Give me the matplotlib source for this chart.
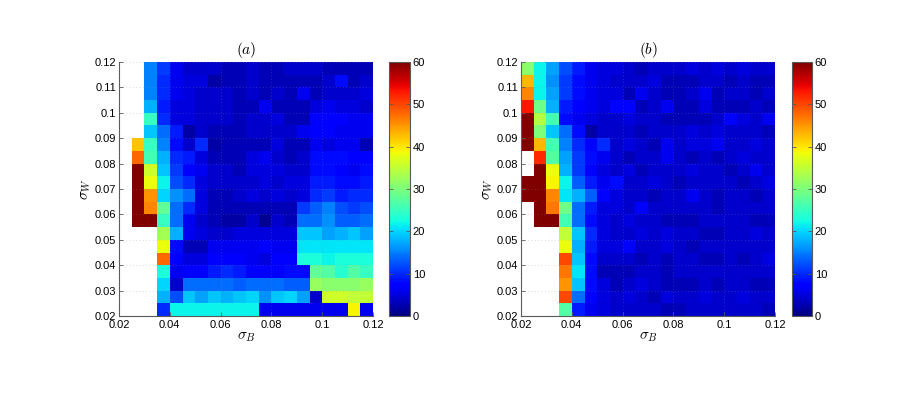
import numpy as np
import matplotlib
matplotlib.use("Agg")
import matplotlib.pyplot as plt

plt.rcParams['font.family'] = ['Liberation Sans', 'DejaVu Sans']
plt.rcParams['mathtext.fontset'] = 'cm'

N = np.nan

# cell edges of the sigma_B / sigma_W grid
sigma_B_edges = [0.02, 0.025, 0.03, 0.035, 0.04, 0.045, 0.05, 0.055, 0.06, 0.065, 0.07,
                 0.075, 0.08, 0.085, 0.09, 0.095, 0.1, 0.105, 0.11, 0.115, 0.12]
sigma_W_edges = list(sigma_B_edges)

x_ticks = [0.02, 0.04, 0.06, 0.08, 0.1, 0.12]
y_ticks = [0.02, 0.03, 0.04, 0.05, 0.06, 0.07, 0.08, 0.09, 0.1, 0.11, 0.12]
cbar_ticks = [0, 10, 20, 30, 40, 50, 60]

# panel (a): rows listed from top (sigma_W = 0.115..0.12) to bottom (0.02..0.025)
values_a = [
    [N, N, 15, 11, 6, 4, 4, 4, 3, 3, 4, 3, 3, 4, 4, 4, 3, 3, 3, 3],
    [N, N, 15, 10, 6, 5, 5, 2, 3, 3, 4, 3, 3, 3, 3, 3, 4, 8, 3, 4],
    [N, N, 15, 10, 6, 5, 4, 4, 4, 3, 4, 3, 4, 3, 6, 3, 4, 4, 4, 5],
    [N, N, 18, 9, 5, 5, 4, 4, 4, 3, 3, 6, 3, 3, 3, 5, 6, 5, 5, 4],
    [N, N, 25, 10, 5, 5, 4, 4, 4, 3, 4, 4, 5, 3, 3, 7, 7, 7, 6, 6],
    [N, N, 19, 14, 9, 2, 4, 3, 3, 3, 4, 4, 4, 4, 6, 7, 7, 6, 6, 6],
    [N, 42, 25, 15, 8, 4, 10, 2, 3, 3, 3, 3, 5, 3, 3, 6, 5, 6, 6, 3],
    [N, 48, 26, 18, 10, 9, 5, 3, 3, 3, 5, 6, 4, 3, 4, 8, 8, 8, 7, 7],
    [N, 65, 36, 19, 11, 7, 6, 4, 4, 3, 5, 5, 5, 4, 4, 8, 8, 7, 6, 8],
    [N, 65, 38, 22, 12, 10, 5, 4, 4, 4, 4, 5, 4, 5, 5, 9, 9, 8, 8, 9],
    [N, 65, 45, 20, 16, 14, 5, 3, 3, 4, 5, 4, 5, 4, 5, 10, 11, 9, 10, 10],
    [N, 65, 46, 28, 14, 10, 5, 3, 3, 3, 3, 3, 3, 3, 11, 13, 15, 12, 11, 12],
    [N, 65, 65, 25, 14, 6, 4, 3, 2, 2, 4, 1, 4, 3, 14, 14, 16, 13, 13, 14],
    [N, N, N, 33, 18, 6, 5, 4, 4, 5, 5, 5, 5, 5, 19, 19, 17, 18, 19, 17],
    [N, N, N, 38, 8, 3, 3, 6, 6, 6, 6, 7, 6, 6, 21, 21, 21, 21, 21, 21],
    [N, N, N, 48, 7, 5, 5, 7, 7, 7, 6, 5, 7, 7, 23, 23, 22, 23, 23, 23],
    [N, N, N, 23, 6, 7, 7, 9, 10, 9, 7, 7, 7, 8, 8, 28, 27, 24, 27, 25],
    [N, N, N, 20, 4, 14, 14, 14, 14, 13, 14, 14, 14, 13, 13, 32, 31, 31, 31, 32],
    [N, N, N, 18, 12, 19, 17, 19, 18, 19, 20, 16, 19, 20, 17, 4, 36, 36, 35, 35],
    [N, N, N, 10, 22, 22, 22, 22, 22, 22, 22, 6, 6, 6, 6, 6, 6, 6, 39, 6],
]

# panel (b): rows listed from top to bottom
values_b = [
    [31, 22, 17, 12, 9, 6, 5, 5, 4, 3, 4, 4, 4, 5, 4, 5, 4, 5, 4, 4],
    [43, 22, 16, 11, 8, 6, 5, 4, 4, 4, 5, 3, 3, 3, 4, 4, 3, 4, 3, 3],
    [46, 22, 17, 11, 8, 6, 5, 5, 3, 6, 4, 3, 3, 4, 6, 3, 4, 4, 3, 4],
    [53, 29, 18, 9, 7, 6, 5, 7, 7, 3, 4, 6, 3, 3, 5, 3, 3, 3, 4, 3],
    [65, 34, 26, 8, 6, 5, 4, 4, 5, 4, 4, 3, 3, 3, 3, 4, 7, 5, 4, 6],
    [65, 30, 19, 14, 8, 2, 4, 4, 4, 3, 4, 4, 4, 5, 4, 5, 4, 4, 4, 3],
    [65, 43, 26, 15, 10, 7, 10, 4, 5, 4, 3, 6, 4, 5, 5, 6, 4, 4, 5, 4],
    [N, 52, 27, 17, 11, 8, 6, 4, 3, 4, 4, 6, 4, 3, 4, 3, 4, 5, 4, 4],
    [N, 65, 38, 18, 11, 7, 5, 4, 5, 3, 4, 4, 4, 5, 4, 4, 3, 4, 6, 4],
    [65, 65, 39, 22, 13, 9, 6, 8, 4, 4, 5, 4, 3, 4, 4, 4, 4, 3, 4, 5],
    [65, 65, 46, 21, 18, 13, 7, 5, 4, 4, 3, 4, 4, 6, 4, 3, 4, 4, 3, 4],
    [N, 65, 47, 29, 14, 9, 5, 5, 4, 7, 4, 4, 4, 4, 4, 3, 4, 4, 4, 4],
    [N, 65, 65, 26, 14, 8, 5, 4, 5, 4, 4, 3, 3, 3, 4, 4, 4, 4, 3, 3],
    [N, N, N, 35, 19, 10, 5, 4, 4, 5, 4, 5, 4, 4, 3, 3, 4, 4, 5, 4],
    [N, N, N, 38, 18, 9, 5, 5, 7, 4, 4, 5, 4, 3, 4, 4, 4, 4, 4, 4],
    [N, N, N, 50, 19, 8, 4, 4, 4, 3, 4, 3, 4, 4, 3, 3, 4, 3, 4, 5],
    [N, N, N, 47, 21, 8, 3, 3, 3, 4, 4, 3, 4, 4, 4, 4, 4, 4, 4, 4],
    [N, N, N, 45, 19, 8, 5, 3, 4, 5, 4, 3, 3, 3, 4, 3, 4, 4, 3, 3],
    [N, N, N, 50, 14, 7, 5, 4, 5, 4, 3, 5, 4, 4, 5, 4, 4, 5, 4, 4],
    [N, N, N, 27, 9, 6, 5, 4, 4, 4, 4, 3, 3, 4, 4, 4, 4, 4, 4, 3],
]

titles = ['$(a)$', '$(b)$']

W, H = 913, 394
fig = plt.figure(figsize=(W / 100, H / 100), dpi=100)

def fx(px):
    return px / W

def fy(py):
    return 1 - py / H

ax_boxes = [(119, 373), (521, 775)]
cb_boxes = [(389, 410), (792, 812)]
top, bot = 62, 316
gray = (0.35, 0.35, 0.35)

for k, data in enumerate([values_a, values_b]):
    x0, x1 = ax_boxes[k]
    ax = fig.add_axes([fx(x0), fy(bot), fx(x1 - x0), (bot - top) / H])
    Z = np.ma.masked_invalid(np.array(data, dtype=float)[::-1])
    mesh = ax.pcolormesh(sigma_B_edges, sigma_W_edges, Z, cmap='jet', vmin=0, vmax=60,
                         edgecolors='face', linewidth=0)
    ax.set_xlim(0.02, 0.12)
    ax.set_ylim(0.02, 0.12)
    ax.set_xticks(x_ticks)
    ax.set_xticklabels([('%g' % t) for t in x_ticks])
    ax.set_yticks(y_ticks)
    ax.set_yticklabels([('%g' % t) for t in y_ticks])
    ax.tick_params(direction='in', length=3, width=0.6, colors=gray, labelcolor='black',
                   labelsize=8)
    ax.tick_params(axis='x', pad=3)
    ax.tick_params(axis='y', pad=2)
    for s in ['top', 'right']:
        ax.spines[s].set_visible(False)
    for s in ['left', 'bottom']:
        ax.spines[s].set_color(gray)
        ax.spines[s].set_linewidth(0.8)
    ax.set_axisbelow(False)
    ax.grid(True, linestyle=(0, (1, 3)), color=(0.55, 0.55, 0.65), linewidth=0.6, alpha=0.4)
    ax.set_xlabel(r'$\sigma_B$', fontsize=11, labelpad=0)
    ax.set_ylabel(r'$\sigma_W$', fontsize=11, labelpad=1)
    ax.set_title(titles[k], fontsize=11, pad=6)

    c0, c1 = cb_boxes[k]
    cax = fig.add_axes([fx(c0), fy(bot), fx(c1 - c0), (bot - top) / H])
    cb = fig.colorbar(mesh, cax=cax, ticks=cbar_ticks)
    cb.outline.set_edgecolor(gray)
    cb.outline.set_linewidth(0.8)
    cax.tick_params(direction='in', length=3, width=0.6, colors=gray, labelcolor='black',
                    labelsize=8, pad=2, left=True, right=True)

fig.savefig('out.png', dpi=100)
